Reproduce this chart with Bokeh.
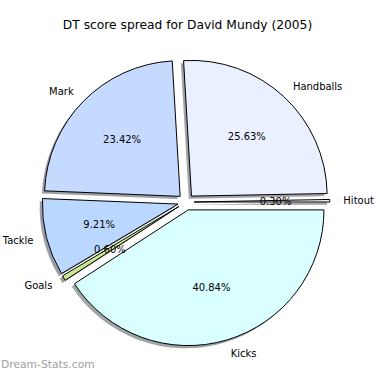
import numpy as np
from bokeh.plotting import figure
from bokeh.models import Range1d, ColumnDataSource
from bokeh.embed import file_html
from bokeh.resources import INLINE
from bokeh.core.properties import value

# ---- data ----
labels = ["Hitout", "Handballs", "Mark", "Tackle", "Goals", "Kicks"]
values = [0.30, 25.63, 23.42, 9.21, 0.60, 40.84]
colors = ["#f2f2f2", "#eaf0ff", "#c6d9ff", "#b9d7ff", "#c9e98f", "#d9ffff"]
title_text = "DT score spread for David Mundy (2005)"
watermark_text = "Dream-Stats.com"

# ---- geometry (reference-pixel-like data units, y up) ----
H = 390.0
cx, cy = 193.4, H - 210.2
R = 141.5
explode = 0.06 * R
shadow_off = 0.02 * R
label_dist = 1.1
pct_dist = 0.6

vals = np.array(values, dtype=float)
frac = vals / vals.sum()
ends = 2 * np.pi * np.cumsum(frac)
starts = np.concatenate([[0.0], ends[:-1]])
mids = (starts + ends) / 2
ox = cx + explode * np.cos(mids)
oy = cy + explode * np.sin(mids)


def shade(c):
    c = c.lstrip("#")
    r, g, b = (int(c[i:i + 2], 16) for i in (0, 2, 4))
    return "#%02x%02x%02x" % (int(r * 0.3), int(g * 0.3), int(b * 0.3))


src = ColumnDataSource(dict(
    x=ox, y=oy, sx=ox - shadow_off, sy=oy - shadow_off,
    start=starts, end=ends, color=colors,
    shadow=[shade(c) for c in colors],
))

W = 374
scale = W / H
p = figure(width=W, height=W, x_range=Range1d(0, H), y_range=Range1d(0, H),
           output_backend="svg", toolbar_location=None,
           x_axis_type=None, y_axis_type=None, min_border=0)
p.grid.visible = False
p.outline_line_color = None

# shadows
p.wedge(x="sx", y="sy", radius=R, start_angle="start", end_angle="end",
        fill_color="shadow", fill_alpha=0.5, line_color=None, source=src)
# wedges
p.wedge(x="x", y="y", radius=R, start_angle="start", end_angle="end",
        fill_color="color", line_color="black", line_width=1.0, source=src)

font = value("DejaVu Sans")
fs = value("%.2fpx" % (10.4 * scale))

lx = ox + label_dist * R * np.cos(mids)
ly = oy + label_dist * R * np.sin(mids)
right_mask = np.cos(mids) > 0
for mask, align in ((right_mask, "left"), (~right_mask, "right")):
    p.text(x=lx[mask], y=ly[mask], text=[l for l, m in zip(labels, mask) if m],
           text_font=font, text_font_size=fs, text_align=align,
           text_baseline="middle", text_color="black")

px_ = ox + pct_dist * R * np.cos(mids)
py_ = oy + pct_dist * R * np.sin(mids)
pct = ["%1.2f%%" % (f * 100) for f in frac]
p.text(x=px_, y=py_, text=pct, text_font=font, text_font_size=fs,
       text_align="center", text_baseline="middle", text_color="black")

# title
p.text(x=[195], y=[H - 26], text=[title_text], text_font=font,
       text_font_size=value("%.2fpx" % (12.8 * scale)), text_align="center",
       text_baseline="middle", text_color="black")

# watermark
p.text(x=[0.5], y=[H - 380], text=[watermark_text], text_font=font,
       text_font_size=value("%.2fpx" % (11.2 * scale)), text_align="left",
       text_baseline="middle", text_color="#a0a0a0")

open("out.html", "w").write(file_html(p, INLINE))
